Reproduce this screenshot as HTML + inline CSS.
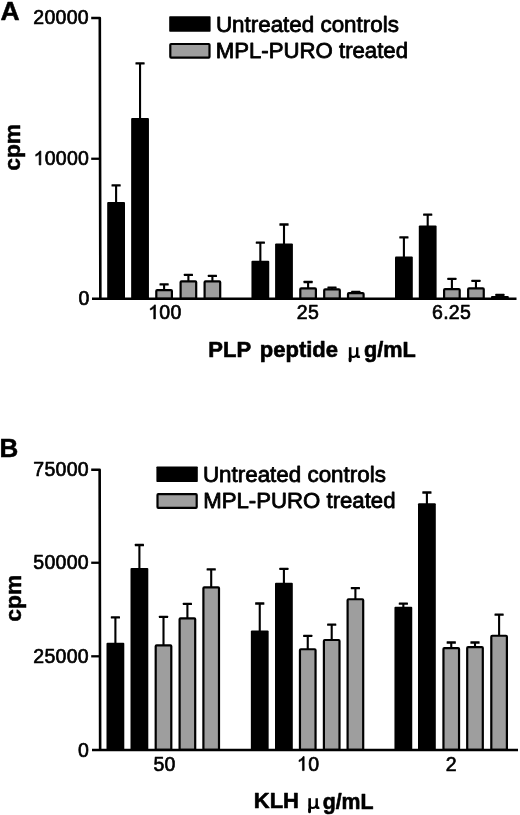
<!DOCTYPE html>
<html><head><meta charset="utf-8"><title>Figure</title>
<style>
html,body{margin:0;padding:0;background:#fff;}
body{width:520px;height:815px;overflow:hidden;}
svg{display:block;filter:grayscale(1);}
text{font-family:"Liberation Sans",sans-serif;fill:#000;stroke:#000;stroke-width:0.9px;stroke-linejoin:round;}
.tk{font-size:19.5px;letter-spacing:0.28px;stroke-width:0.65px;}
.lg{font-size:22.4px;stroke-width:0.8px;}
.ax{font-size:22px;font-weight:bold;stroke-width:0.6px;}
.pl{font-size:26.5px;font-weight:bold;stroke-width:0.5px;}
.cp{font-size:22.8px;font-weight:bold;stroke-width:0.5px;}
</style></head><body>
<svg width="520" height="815" viewBox="0 0 520 815">
<rect width="520" height="815" fill="#fff"/>
<path d="M91.2 17.95 H99.8 L100.35 298.85" fill="none" stroke="#000000" stroke-width="2.6" stroke-linejoin="round"/>
<path d="M91.2 158.75 H100" fill="none" stroke="#000000" stroke-width="2.3"/>
<rect x="115.05" y="185.40" width="2.1" height="17.70" fill="#000000"/>
<rect x="111.50" y="184.25" width="9.2" height="2.3" rx="0.5" fill="#000000"/>
<path d="M107.20 298.85 V203.10 Q107.20 202.10 108.20 202.10 H124.00 Q125.00 202.10 125.00 203.10 V298.85 Z" fill="#000000"/>
<rect x="139.00" y="63.45" width="2.1" height="55.65" fill="#000000"/>
<rect x="135.45" y="62.30" width="9.2" height="2.3" rx="0.5" fill="#000000"/>
<path d="M131.15 298.85 V119.10 Q131.15 118.10 132.15 118.10 H147.95 Q148.95 118.10 148.95 119.10 V298.85 Z" fill="#000000"/>
<rect x="163.05" y="284.40" width="2.1" height="5.60" fill="#000000"/>
<rect x="159.50" y="283.25" width="9.2" height="2.3" rx="0.5" fill="#000000"/>
<rect x="156.30" y="290.10" width="15.60" height="8.75" rx="0.9" fill="#9e9e9e" stroke="#000000" stroke-width="2.2" stroke-linejoin="round"/>
<rect x="187.35" y="274.85" width="2.1" height="6.35" fill="#000000"/>
<rect x="183.80" y="273.70" width="9.2" height="2.3" rx="0.5" fill="#000000"/>
<rect x="180.60" y="281.30" width="15.60" height="17.55" rx="0.9" fill="#9e9e9e" stroke="#000000" stroke-width="2.2" stroke-linejoin="round"/>
<rect x="211.35" y="275.80" width="2.1" height="5.40" fill="#000000"/>
<rect x="207.80" y="274.65" width="9.2" height="2.3" rx="0.5" fill="#000000"/>
<rect x="204.60" y="281.30" width="15.60" height="17.55" rx="0.9" fill="#9e9e9e" stroke="#000000" stroke-width="2.2" stroke-linejoin="round"/>
<rect x="259.30" y="242.70" width="2.1" height="19.15" fill="#000000"/>
<rect x="255.75" y="241.55" width="9.2" height="2.3" rx="0.5" fill="#000000"/>
<path d="M251.45 298.85 V261.85 Q251.45 260.85 252.45 260.85 H268.25 Q269.25 260.85 269.25 261.85 V298.85 Z" fill="#000000"/>
<rect x="282.95" y="224.50" width="2.1" height="20.00" fill="#000000"/>
<rect x="279.40" y="223.35" width="9.2" height="2.3" rx="0.5" fill="#000000"/>
<path d="M275.10 298.85 V244.50 Q275.10 243.50 276.10 243.50 H291.90 Q292.90 243.50 292.90 244.50 V298.85 Z" fill="#000000"/>
<rect x="307.05" y="282.00" width="2.1" height="6.20" fill="#000000"/>
<rect x="303.50" y="280.85" width="9.2" height="2.3" rx="0.5" fill="#000000"/>
<rect x="300.30" y="288.30" width="15.60" height="10.55" rx="0.9" fill="#9e9e9e" stroke="#000000" stroke-width="2.2" stroke-linejoin="round"/>
<rect x="330.95" y="287.70" width="2.1" height="1.50" fill="#000000"/>
<rect x="327.40" y="286.55" width="9.2" height="2.3" rx="0.5" fill="#000000"/>
<rect x="324.20" y="289.30" width="15.60" height="9.55" rx="0.9" fill="#9e9e9e" stroke="#000000" stroke-width="2.2" stroke-linejoin="round"/>
<rect x="354.75" y="291.80" width="2.1" height="1.20" fill="#000000"/>
<rect x="351.20" y="290.65" width="9.2" height="2.3" rx="0.5" fill="#000000"/>
<rect x="348.00" y="293.10" width="15.60" height="5.75" rx="0.9" fill="#9e9e9e" stroke="#000000" stroke-width="2.2" stroke-linejoin="round"/>
<rect x="402.85" y="237.30" width="2.1" height="20.20" fill="#000000"/>
<rect x="399.30" y="236.15" width="9.2" height="2.3" rx="0.5" fill="#000000"/>
<path d="M395.00 298.85 V257.50 Q395.00 256.50 396.00 256.50 H411.80 Q412.80 256.50 412.80 257.50 V298.85 Z" fill="#000000"/>
<rect x="426.65" y="214.70" width="2.1" height="11.80" fill="#000000"/>
<rect x="423.10" y="213.55" width="9.2" height="2.3" rx="0.5" fill="#000000"/>
<path d="M418.80 298.85 V226.50 Q418.80 225.50 419.80 225.50 H435.60 Q436.60 225.50 436.60 226.50 V298.85 Z" fill="#000000"/>
<rect x="450.85" y="278.85" width="2.1" height="10.25" fill="#000000"/>
<rect x="447.30" y="277.70" width="9.2" height="2.3" rx="0.5" fill="#000000"/>
<rect x="444.10" y="289.20" width="15.60" height="9.65" rx="0.9" fill="#9e9e9e" stroke="#000000" stroke-width="2.2" stroke-linejoin="round"/>
<rect x="474.90" y="280.85" width="2.1" height="7.45" fill="#000000"/>
<rect x="471.35" y="279.70" width="9.2" height="2.3" rx="0.5" fill="#000000"/>
<rect x="468.15" y="288.40" width="15.60" height="10.45" rx="0.9" fill="#9e9e9e" stroke="#000000" stroke-width="2.2" stroke-linejoin="round"/>
<rect x="498.85" y="295.00" width="2.1" height="1.90" fill="#000000"/>
<rect x="495.30" y="293.85" width="9.2" height="2.3" rx="0.5" fill="#000000"/>
<path d="M491.00 298.85 V296.90 Q491.00 295.90 492.00 295.90 H507.80 Q508.80 295.90 508.80 296.90 V298.85 Z" fill="#000000"/>
<path d="M92 298.85 H516.5" fill="none" stroke="#000000" stroke-width="2.5"/>
<rect x="169.2" y="16.2" width="41.4" height="15.6" rx="0.8" fill="#000000"/>
<rect x="170.29999999999998" y="44.0" width="39.2" height="13.6" rx="0.8" fill="#9e9e9e" stroke="#000000" stroke-width="2.2" stroke-linejoin="round"/>
<text x="215.9" y="31.5" class="lg">Untreated controls</text>
<text x="215.7" y="58" class="lg" style="font-size:22.2px">MPL-PURO treated</text>
<text x="0.6" y="20.3" class="pl">A</text>
<text x="88.9" y="24" class="tk" text-anchor="end">20000</text>
<text x="89.2" y="165.2" class="tk" text-anchor="end">0000</text>
<path transform="translate(33.60,165.00) scale(0.009521,-0.009521)" d="M763 0H583V1147Q518 1085 412.5 1023Q307 961 223 930V1104Q374 1175 487 1276Q600 1377 647 1472H763Z" fill="#000000" stroke="#000000" stroke-width="68" stroke-linejoin="round"/>
<text x="89.5" y="305.3" class="tk" text-anchor="end">0</text>
<text x="159.3" y="319.1" class="tk">00</text>
<path transform="translate(148.20,318.90) scale(0.009521,-0.009521)" d="M763 0H583V1147Q518 1085 412.5 1023Q307 961 223 930V1104Q374 1175 487 1276Q600 1377 647 1472H763Z" fill="#000000" stroke="#000000" stroke-width="68" stroke-linejoin="round"/>
<text x="307.9" y="319.1" class="tk" text-anchor="middle">25</text>
<text x="451.6" y="319.1" class="tk" text-anchor="middle">6.25</text>
<text x="208.3" y="357.3" class="ax">PLP</text>
<text x="259.8" y="357.3" class="ax">peptide</text>
<g fill="none" stroke="#000000" stroke-linecap="round" stroke-linejoin="round"><path d="M350.15 347.20 V360.80" stroke-width="2.6" stroke-linecap="butt"/><path d="M350.05 358.50 V360.90" stroke-width="2.7"/><path d="M350.15 354.00 C350.15 358.10,355.60 358.10,357.20 353.90" stroke-width="1.9"/><path d="M357.20 347.20 V355.80 Q357.20 357.40 359.80 356.50" stroke-width="2.4" stroke-linecap="butt"/></g>
<text x="363.9" y="357.4" class="ax" style="font-size:21.7px">g/mL</text>
<text transform="translate(20.0,170.8) rotate(-90)" class="cp">cpm</text>
<path d="M91.2 469.75 H99.65 L100.15 749.95" fill="none" stroke="#000000" stroke-width="2.6" stroke-linejoin="round"/>
<path d="M91.2 562.75 H99.8" fill="none" stroke="#000000" stroke-width="2.3"/>
<path d="M91.2 656.3 H99.8" fill="none" stroke="#000000" stroke-width="2.3"/>
<rect x="114.35" y="617.30" width="2.1" height="26.40" fill="#000000"/>
<rect x="110.80" y="616.15" width="9.2" height="2.3" rx="0.5" fill="#000000"/>
<path d="M106.50 749.95 V643.70 Q106.50 642.70 107.50 642.70 H123.30 Q124.30 642.70 124.30 643.70 V749.95 Z" fill="#000000"/>
<rect x="138.35" y="545.00" width="2.1" height="24.10" fill="#000000"/>
<rect x="134.80" y="543.85" width="9.2" height="2.3" rx="0.5" fill="#000000"/>
<path d="M130.50 749.95 V569.10 Q130.50 568.10 131.50 568.10 H147.30 Q148.30 568.10 148.30 569.10 V749.95 Z" fill="#000000"/>
<rect x="162.45" y="616.85" width="2.1" height="28.35" fill="#000000"/>
<rect x="158.90" y="615.70" width="9.2" height="2.3" rx="0.5" fill="#000000"/>
<rect x="155.70" y="645.30" width="15.60" height="104.65" rx="0.9" fill="#9e9e9e" stroke="#000000" stroke-width="2.2" stroke-linejoin="round"/>
<rect x="186.35" y="603.90" width="2.1" height="14.40" fill="#000000"/>
<rect x="182.80" y="602.75" width="9.2" height="2.3" rx="0.5" fill="#000000"/>
<rect x="179.60" y="618.40" width="15.60" height="131.55" rx="0.9" fill="#9e9e9e" stroke="#000000" stroke-width="2.2" stroke-linejoin="round"/>
<rect x="210.15" y="569.30" width="2.1" height="17.90" fill="#000000"/>
<rect x="206.60" y="568.15" width="9.2" height="2.3" rx="0.5" fill="#000000"/>
<rect x="203.40" y="587.30" width="15.60" height="162.65" rx="0.9" fill="#9e9e9e" stroke="#000000" stroke-width="2.2" stroke-linejoin="round"/>
<rect x="258.70" y="603.50" width="2.1" height="28.00" fill="#000000"/>
<rect x="255.15" y="602.35" width="9.2" height="2.3" rx="0.5" fill="#000000"/>
<path d="M250.85 749.95 V631.50 Q250.85 630.50 251.85 630.50 H267.65 Q268.65 630.50 268.65 631.50 V749.95 Z" fill="#000000"/>
<rect x="282.85" y="568.90" width="2.1" height="14.90" fill="#000000"/>
<rect x="279.30" y="567.75" width="9.2" height="2.3" rx="0.5" fill="#000000"/>
<path d="M275.00 749.95 V583.80 Q275.00 582.80 276.00 582.80 H291.80 Q292.80 582.80 292.80 583.80 V749.95 Z" fill="#000000"/>
<rect x="306.70" y="635.85" width="2.1" height="13.30" fill="#000000"/>
<rect x="303.15" y="634.70" width="9.2" height="2.3" rx="0.5" fill="#000000"/>
<rect x="299.95" y="649.25" width="15.60" height="100.70" rx="0.9" fill="#9e9e9e" stroke="#000000" stroke-width="2.2" stroke-linejoin="round"/>
<rect x="330.65" y="624.60" width="2.1" height="15.30" fill="#000000"/>
<rect x="327.10" y="623.45" width="9.2" height="2.3" rx="0.5" fill="#000000"/>
<rect x="323.90" y="640.00" width="15.60" height="109.95" rx="0.9" fill="#9e9e9e" stroke="#000000" stroke-width="2.2" stroke-linejoin="round"/>
<rect x="354.35" y="588.15" width="2.1" height="11.00" fill="#000000"/>
<rect x="350.80" y="587.00" width="9.2" height="2.3" rx="0.5" fill="#000000"/>
<rect x="347.60" y="599.25" width="15.60" height="150.70" rx="0.9" fill="#9e9e9e" stroke="#000000" stroke-width="2.2" stroke-linejoin="round"/>
<rect x="402.30" y="603.70" width="2.1" height="4.10" fill="#000000"/>
<rect x="398.75" y="602.55" width="9.2" height="2.3" rx="0.5" fill="#000000"/>
<path d="M394.45 749.95 V607.80 Q394.45 606.80 395.45 606.80 H411.25 Q412.25 606.80 412.25 607.80 V749.95 Z" fill="#000000"/>
<rect x="425.85" y="492.50" width="2.1" height="11.70" fill="#000000"/>
<rect x="422.30" y="491.35" width="9.2" height="2.3" rx="0.5" fill="#000000"/>
<path d="M418.00 749.95 V504.20 Q418.00 503.20 419.00 503.20 H434.80 Q435.80 503.20 435.80 504.20 V749.95 Z" fill="#000000"/>
<rect x="450.20" y="642.50" width="2.1" height="5.60" fill="#000000"/>
<rect x="446.65" y="641.35" width="9.2" height="2.3" rx="0.5" fill="#000000"/>
<rect x="443.45" y="648.20" width="15.60" height="101.75" rx="0.9" fill="#9e9e9e" stroke="#000000" stroke-width="2.2" stroke-linejoin="round"/>
<rect x="473.95" y="642.50" width="2.1" height="4.60" fill="#000000"/>
<rect x="470.40" y="641.35" width="9.2" height="2.3" rx="0.5" fill="#000000"/>
<rect x="467.20" y="647.20" width="15.60" height="102.75" rx="0.9" fill="#9e9e9e" stroke="#000000" stroke-width="2.2" stroke-linejoin="round"/>
<rect x="498.05" y="614.70" width="2.1" height="20.95" fill="#000000"/>
<rect x="494.50" y="613.55" width="9.2" height="2.3" rx="0.5" fill="#000000"/>
<rect x="491.30" y="635.75" width="15.60" height="114.20" rx="0.9" fill="#9e9e9e" stroke="#000000" stroke-width="2.2" stroke-linejoin="round"/>
<path d="M92 749.95 H518" fill="none" stroke="#000000" stroke-width="2.5"/>
<rect x="156.4" y="466.4" width="41.4" height="15.6" rx="0.8" fill="#000000"/>
<rect x="157.5" y="494.20000000000005" width="39.2" height="13.6" rx="0.8" fill="#9e9e9e" stroke="#000000" stroke-width="2.2" stroke-linejoin="round"/>
<text x="202.9" y="481.7" class="lg">Untreated controls</text>
<text x="203.2" y="508.1" class="lg" style="font-size:22.2px">MPL-PURO treated</text>
<text x="-0.4" y="456.9" class="pl" style="font-size:26px">B</text>
<text x="88.9" y="476" class="tk" text-anchor="end">75000</text>
<text x="88.9" y="569" class="tk" text-anchor="end">50000</text>
<text x="88.9" y="662.6" class="tk" text-anchor="end">25000</text>
<text x="89.1" y="756.6" class="tk" text-anchor="end">0</text>
<text x="164.5" y="771.0" class="tk" text-anchor="middle">50</text>
<text x="308.3" y="771.0" class="tk">0</text>
<path transform="translate(296.90,770.60) scale(0.009521,-0.009521)" d="M763 0H583V1147Q518 1085 412.5 1023Q307 961 223 930V1104Q374 1175 487 1276Q600 1377 647 1472H763Z" fill="#000000" stroke="#000000" stroke-width="68" stroke-linejoin="round"/>
<text x="451.2" y="771.0" class="tk" text-anchor="middle">2</text>
<text x="253.8" y="808.4" class="ax">KLH</text>
<g fill="none" stroke="#000000" stroke-linecap="round" stroke-linejoin="round"><path d="M309.65 798.20 V811.80" stroke-width="2.6" stroke-linecap="butt"/><path d="M309.55 809.50 V811.90" stroke-width="2.7"/><path d="M309.65 805.00 C309.65 809.10,315.10 809.10,316.70 804.90" stroke-width="1.9"/><path d="M316.70 798.20 V806.80 Q316.70 808.40 319.30 807.50" stroke-width="2.4" stroke-linecap="butt"/></g>
<text x="322.7" y="808.5" class="ax" style="font-size:21.3px">g/mL</text>
<text transform="translate(20.6,621.7) rotate(-90)" class="cp">cpm</text>
</svg>
</body></html>
